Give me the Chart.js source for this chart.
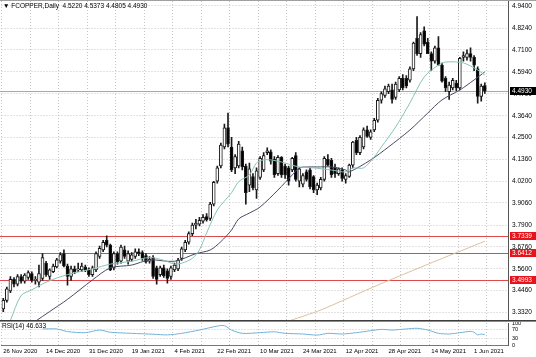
<!DOCTYPE html>
<html><head><meta charset="utf-8">
<script src="https://cdn.jsdelivr.net/npm/chart.js@4.4.1/dist/chart.umd.min.js"></script>
<style>
html,body{margin:0;padding:0;background:#fff;}
#wrap{position:relative;width:536px;height:357px;overflow:hidden;background:#fff;}
#c1{position:absolute;left:0;top:0;}
#c2{position:absolute;left:0;top:321px;}
.txt{position:absolute;font-family:"Liberation Sans Narrow","Liberation Sans",sans-serif;font-size:6.5px;color:#000;white-space:nowrap;line-height:1;}
#sep{position:absolute;left:0;top:320px;width:536px;height:0;border-top:1px solid #3c3c3c;border-bottom:1px solid #8c8c8c;}
#topline{position:absolute;left:0;top:0;width:536px;height:0;border-top:1px solid #a0a0a0;}
</style></head><body>
<div id="wrap">
<canvas id="c1" width="536" height="321"></canvas>
<canvas id="c2" width="536" height="36"></canvas>
<div id="topline"></div><div id="sep"></div>
<div class="txt" style="left:3px;top:3px">▼ FCOPPER,Daily&nbsp; 4.5220 4.5373 4.4805 4.4930</div>
<div class="txt" style="left:2px;top:323px">RSI(14) 46.633</div>
</div>
<script>
// ---- data ----
const opens = [3.350,3.395,3.445,3.505,3.480,3.520,3.495,3.515,3.535,3.500,
3.490,3.510,3.590,3.520,3.545,3.570,3.600,3.640,3.575,3.520,
3.560,3.555,3.555,3.570,3.555,3.530,3.555,3.625,3.660,3.710,
3.685,3.565,3.640,3.600,3.660,3.600,3.610,3.625,3.650,3.645,
3.630,3.600,3.620,3.565,3.530,3.565,3.550,3.520,3.555,3.560,
3.615,3.660,3.700,3.745,3.790,3.795,3.810,3.835,3.825,3.900,
4.020,4.100,4.200,4.300,4.200,4.090,4.100,4.180,4.100,4.000,
4.045,3.975,4.040,4.080,4.170,4.175,4.135,4.060,4.145,4.100,
4.090,4.080,4.155,4.020,4.005,4.070,4.080,4.045,3.975,3.985,
4.030,4.135,4.130,4.095,4.060,4.080,4.030,4.045,4.105,4.235,
4.170,4.200,4.290,4.250,4.290,4.340,4.445,4.470,4.490,4.500,
4.460,4.500,4.560,4.560,4.550,4.610,4.770,4.690,4.810,4.750,
4.690,4.650,4.720,4.630,4.560,4.490,4.510,4.535,4.510,4.670,
4.670,4.690,4.670,4.610,4.465,4.522];
const highs = [3.405,3.465,3.520,3.515,3.530,3.530,3.535,3.550,3.545,3.520,
3.580,3.640,3.600,3.560,3.585,3.615,3.645,3.660,3.585,3.575,
3.575,3.590,3.590,3.580,3.565,3.575,3.650,3.680,3.710,3.734,
3.690,3.650,3.650,3.685,3.680,3.655,3.645,3.665,3.665,3.655,
3.640,3.625,3.630,3.575,3.575,3.580,3.560,3.575,3.590,3.615,
3.675,3.710,3.755,3.800,3.820,3.830,3.845,3.850,3.910,4.020,
4.100,4.220,4.320,4.378,4.250,4.160,4.230,4.200,4.110,4.115,
4.060,4.090,4.150,4.170,4.195,4.185,4.150,4.155,4.150,4.110,
4.100,4.145,4.170,4.090,4.060,4.080,4.090,4.050,4.010,4.040,
4.150,4.160,4.140,4.110,4.090,4.090,4.060,4.110,4.230,4.250,
4.260,4.300,4.310,4.290,4.350,4.455,4.490,4.520,4.530,4.530,
4.540,4.570,4.580,4.575,4.620,4.750,4.885,4.800,4.830,4.770,
4.700,4.730,4.780,4.640,4.570,4.540,4.560,4.550,4.670,4.700,
4.710,4.720,4.680,4.620,4.530,4.5373];
const lows = [3.335,3.385,3.435,3.465,3.470,3.485,3.485,3.505,3.490,3.480,
3.465,3.500,3.520,3.505,3.540,3.565,3.590,3.570,3.475,3.500,
3.535,3.545,3.545,3.545,3.520,3.520,3.545,3.615,3.650,3.675,
3.550,3.555,3.585,3.590,3.615,3.585,3.600,3.615,3.630,3.605,
3.590,3.590,3.510,3.480,3.520,3.515,3.485,3.505,3.545,3.550,
3.605,3.650,3.690,3.735,3.770,3.785,3.800,3.810,3.815,3.890,
4.010,4.090,4.190,4.200,4.070,4.060,4.090,4.080,3.900,3.965,
3.975,3.930,4.030,4.070,4.160,4.110,4.040,4.050,4.040,4.035,
4.000,4.070,4.020,3.990,3.990,4.020,3.980,3.960,3.950,3.975,
4.020,4.100,4.040,4.040,4.050,4.020,4.010,4.040,4.090,4.160,
4.160,4.190,4.250,4.240,4.280,4.330,4.430,4.460,4.480,4.430,
4.450,4.490,4.500,4.510,4.540,4.600,4.680,4.670,4.730,4.690,
4.600,4.640,4.630,4.540,4.490,4.450,4.500,4.495,4.500,4.650,
4.655,4.650,4.600,4.430,4.440,4.4805];
const closes = [3.395,3.455,3.505,3.480,3.520,3.495,3.527,3.540,3.500,3.505,
3.535,3.620,3.530,3.555,3.575,3.607,3.635,3.575,3.520,3.560,
3.545,3.560,3.575,3.555,3.530,3.565,3.640,3.668,3.700,3.685,
3.555,3.640,3.598,3.675,3.625,3.640,3.634,3.650,3.640,3.615,
3.598,3.610,3.520,3.505,3.565,3.525,3.510,3.565,3.580,3.605,
3.665,3.700,3.745,3.790,3.800,3.815,3.830,3.818,3.900,4.015,
4.090,4.210,4.300,4.215,4.080,4.150,4.215,4.095,3.960,4.085,
3.985,4.075,4.140,4.155,4.180,4.125,4.055,4.145,4.055,4.055,
4.020,4.140,4.030,4.085,4.050,4.030,3.990,3.975,4.000,4.030,
4.140,4.105,4.055,4.060,4.085,4.035,4.050,4.105,4.225,4.170,
4.250,4.290,4.255,4.280,4.340,4.445,4.480,4.505,4.520,4.450,
4.530,4.560,4.510,4.520,4.610,4.745,4.690,4.790,4.740,4.690,
4.650,4.720,4.630,4.545,4.510,4.525,4.550,4.510,4.665,4.680,
4.690,4.670,4.630,4.465,4.520,4.493];

// moving averages (bar index -> value)
const fastIdx = [2,5,8,12,18,25,30,36,41,45,48,50,53,55,57,60,64,66,69,71,73,75,78,83,87,92,96,98,101,104,106,110,114,118,122,124,129,133,135];
const fastVal = [3.29,3.42,3.45,3.49,3.53,3.56,3.585,3.60,3.62,3.605,3.585,3.59,3.615,3.66,3.748,3.869,3.96,4.018,4.053,4.116,4.132,4.132,4.121,4.095,4.09,4.079,4.069,4.09,4.09,4.148,4.20,4.305,4.431,4.567,4.63,4.646,4.641,4.604,4.578];
const slowIdx = [9,13,18,25,30,36,41,48,54,58,61,64,66,69,72,77,81,83,85,88,92,96,97,103,108,114,119,123,128,132,135];
const slowVal = [3.285,3.336,3.40,3.502,3.565,3.58,3.607,3.60,3.64,3.659,3.703,3.764,3.822,3.853,3.885,3.974,4.053,4.09,4.095,4.095,4.095,4.079,4.069,4.132,4.20,4.289,4.378,4.447,4.499,4.552,4.594];
const longIdx = [79,89,105,122,135];
const longVal = [3.280,3.344,3.475,3.607,3.705];

// RSI(14)
const rsiIdx = [11,15,18,23,27,30,36,42,46,50,55,60,62,64,67,72,76,79,84,88,91,95,99,103,106,109,113,116,119,122,125,128,131,132,133,134,135];
const rsiVal = [73,73,61,56,68,58,53,49,46,53,68,86,88,68,53,56,60,53,50,45,53,50,56,65,71,68,73,76,68,53,50,56,62,58,46,50,46.633];

const levelLines = [3.7339, 3.6412, 3.4993];
const lastPrice = 4.4930;
const yTicks = [4.9400,4.8240,4.7100,4.5940,4.4790,4.3640,4.2500,4.1360,4.0200,3.9060,3.7900,3.6760,3.5600,3.4460,3.3320];
const rsiTicks = [100,70,30,0];
const xTickIdx = [0,12,24,36,48,60,72,84,96,108,120,132];
const xTickLabels = ['26 Nov 2020','14 Dec 2020','31 Dec 2020','19 Jan 2021','4 Feb 2021','22 Feb 2021','10 Mar 2021','24 Mar 2021','12 Apr 2021','28 Apr 2021','14 May 2021','1 Jun 2021'];

// ---- build ----
const SLOTS = 142;
const slots = Array.from({length: SLOTS}, (_, i) => String(i));
function sparse(idx, val) { const a = new Array(opens.length).fill(null); idx.forEach((k, j) => { a[k] = val[j]; }); return a; }
const bodies = opens.map((o, i) => [Math.min(o, closes[i]), Math.max(o, closes[i])]);
const wicks = lows.map((l, i) => [l, highs[i]]);
const bodyFill = opens.map((o, i) => closes[i] >= o ? '#ffffff' : '#000000');

const FONT = '"Liberation Sans Narrow","Liberation Sans",sans-serif';
const Y_MIN = 3.2917, Y_MAX = 4.9662;
const gridCol = '#c6c6c6';
const vGrid = c => (c.index % 8 === 0 ? gridCol : 'rgba(0,0,0,0)');

const overlay = {
  id: 'overlay',
  beforeDatasetsDraw(chart) {
    const {ctx, chartArea: a, scales: {y}} = chart;
    ctx.save();
    ctx.lineWidth = 1;
    const pb = Math.round(y.getPixelForValue(lastPrice)) + 0.5;
    ctx.strokeStyle = '#a8a8a8';
    ctx.beginPath(); ctx.moveTo(0, pb); ctx.lineTo(a.right, pb); ctx.stroke();
    ctx.strokeStyle = '#dc4a4e';
    levelLines.forEach(v => {
      const p = Math.round(y.getPixelForValue(v)) + 0.5;
      ctx.beginPath(); ctx.moveTo(0, p); ctx.lineTo(a.right, p); ctx.stroke();
    });
    ctx.restore();
  },
  afterDraw(chart) {
    const {ctx, chartArea: a, scales: {y}} = chart;
    ctx.save();
    ctx.font = '6.5px ' + FONT;
    ctx.textBaseline = 'middle';
    const box = (v, bg) => {
      const p = Math.round(y.getPixelForValue(v));
      ctx.fillStyle = bg;
      ctx.fillRect(a.right + 2, p - 4, chart.width - a.right - 2, 8);
      ctx.fillStyle = '#ffffff';
      ctx.fillText(v.toFixed(4), a.right + 4, p + 0.5);
    };
    levelLines.forEach(v => box(v, '#e8121a'));
    box(lastPrice, '#000000');
    ctx.restore();
  }
};

new Chart(document.getElementById('c1'), {
  type: 'bar',
  data: {
    labels: slots,
    datasets: [
      {type: 'line', data: sparse(fastIdx, fastVal), borderColor: '#88c4b6', borderWidth: 1, pointRadius: 0, spanGaps: true, tension: 0.3, order: 0},
      {type: 'line', data: sparse(slowIdx, slowVal), borderColor: '#4a4a66', borderWidth: 1, pointRadius: 0, spanGaps: true, tension: 0.3, order: 0},
      {type: 'line', data: sparse(longIdx, longVal), borderColor: '#dcc09c', borderWidth: 1, pointRadius: 0, spanGaps: true, tension: 0.2, order: 0},
      {type: 'bar', data: bodies, backgroundColor: bodyFill, borderColor: '#1a1a1a', borderWidth: 1, borderSkipped: false, barThickness: 3, grouped: false, order: 1},
      {type: 'bar', data: wicks, backgroundColor: '#1a1a1a', borderWidth: 0, barThickness: 1, grouped: false, order: 2}
    ]
  },
  options: {
    responsive: false, animation: false, events: [],
    layout: {padding: {left: 1.5, right: 0, top: 1, bottom: 1}},
    plugins: {legend: {display: false}, tooltip: {enabled: false}},
    scales: {
      x: {
        type: 'category', offset: true,
        grid: {offset: true, color: vGrid, drawTicks: false, borderDash: [1, 2]},
        border: {display: false, dash: [1, 2]},
        ticks: {display: false},
        afterFit: s => { s.height = 0; s.paddingLeft = 0; s.paddingRight = 0; }
      },
      y: {
        position: 'right', min: Y_MIN, max: Y_MAX,
        afterBuildTicks: s => { s.ticks = yTicks.map(v => ({value: v})); },
        ticks: {autoSkip: false, callback: v => Number(v).toFixed(4), font: {family: FONT, size: 6.5}, color: '#000000', padding: 4},
        grid: {color: gridCol, drawTicks: false, borderDash: [1, 2]},
        border: {display: true, color: '#555555', dash: [1, 2]},
        afterFit: s => { s.width = 28; s.paddingTop = 0; s.paddingBottom = 0; }
      }
    }
  },
  plugins: [overlay]
});

new Chart(document.getElementById('c2'), {
  type: 'line',
  data: {
    labels: slots,
    datasets: [{data: sparse(rsiIdx, rsiVal), borderColor: '#74b2d8', borderWidth: 1, pointRadius: 0, spanGaps: true, tension: 0.25}]
  },
  options: {
    responsive: false, animation: false, events: [],
    layout: {padding: {left: 1.5, right: 0, top: 2, bottom: 0}},
    plugins: {legend: {display: false}, tooltip: {enabled: false}},
    scales: {
      x: {
        type: 'category', offset: true,
        grid: {offset: true, color: vGrid, drawTicks: false, borderDash: [1, 2]},
        border: {display: true, color: '#777777', dash: [1, 2]},
        ticks: {autoSkip: false, maxRotation: 0, minRotation: 0, align: 'start', padding: 3,
          font: {family: FONT, size: 6}, color: '#000000',
          callback: (v, i) => { const k = xTickIdx.indexOf(i); return k >= 0 ? xTickLabels[k] : ''; }},
        afterFit: s => { s.height = 12; s.paddingLeft = 0; s.paddingRight = 0; }
      },
      y: {
        position: 'right', min: 0, max: 100,
        afterBuildTicks: s => { s.ticks = rsiTicks.map(v => ({value: v})); },
        ticks: {autoSkip: false, font: {family: FONT, size: 5.5}, color: '#000000', padding: 4},
        grid: {color: c => (c.tick && (c.tick.value === 30 || c.tick.value === 70)) ? gridCol : 'rgba(0,0,0,0)', drawTicks: false, borderDash: [1, 2]},
        border: {display: true, color: '#555555', dash: [1, 2]},
        afterFit: s => { s.width = 28; s.paddingTop = 0; s.paddingBottom = 0; }
      }
    }
  }
});
</script>
</body></html>
